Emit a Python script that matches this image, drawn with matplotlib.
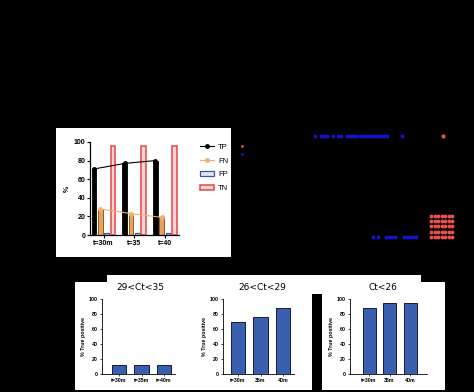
import matplotlib.pyplot as plt
from matplotlib.patches import Rectangle
from matplotlib.lines import Line2D
from matplotlib.patches import Patch
import numpy as np

W, H = 474, 392

# top chart data
groups = ['t=30m', 't=35', 't=40']
tp = [71, 77, 80]
fn = [28, 23, 19]
fp = [2, 2, 2]
tn = [96, 96, 96]

# bottom charts data
titles = ['29<Ct<35', '26<Ct<29', 'Ct<26']
time_labels = [['t=30m', 't=35m', 't=40m'],
               ['t=30m', '35m', '40m'],
               ['t=30m', '35m', '40m']]
true_pos = [[12, 12, 12],
            [69, 76, 88],
            [88, 95, 95]]

# dot panel data (arbitrary horizontal scale)
upper_blue = [83, 89, 92, 95, 101, 106, 109, 115, 118, 121, 124, 128, 131, 134,
              137, 140, 143, 146, 149, 152, 155, 170]
upper_red = [211]
lower_blue = [141, 146, 154, 157, 160, 163, 172, 175, 178, 181, 184]
grid_red_cols = [199, 202.5, 206, 209.5, 213, 216.5, 220]
grid_red_rows = [1, 2, 3, 4, 5]

plt.rcParams['font.family'] = ['Liberation Sans', 'DejaVu Sans']

fig = plt.figure(figsize=(W / 100, H / 100), dpi=100, facecolor='black')


def fr(x0, y0, x1, y1):
    # pixel box (top-left origin) -> figure fraction rect
    return [x0 / W, 1 - y1 / H, (x1 - x0) / W, (y1 - y0) / H]


def panel(x0, y0, x1, y1, color='white'):
    r = fr(x0, y0, x1, y1)
    fig.patches.append(Rectangle((r[0], r[1]), r[2], r[3], transform=fig.transFigure,
                                 facecolor=color, edgecolor='none', zorder=-10))


panel(56, 128, 231, 257)
panel(107, 275, 421, 290)
panel(75, 282, 445, 390)
panel(312, 294, 322, 392, color='black')

# ---- top grouped bar chart ----
ax = fig.add_axes(fr(90, 142, 179, 235))
ax.set_facecolor('none')
x = np.arange(len(groups))
step = 0.205
bw = 0.15
ax.bar(x - 1.5 * step, tp, bw, color='black', edgecolor='black', lw=0.6, zorder=2)
ax.bar(x - 0.5 * step, fn, bw, color='#e9a25a', edgecolor='#7a4a1a', lw=0.6, zorder=2)
ax.bar(x + 0.5 * step, fp, bw, color='#dfe6f2', edgecolor='#3a5a9a', lw=0.9, zorder=2)
ax.bar(x + 1.5 * step, tn, bw, color='#f4d4d4', edgecolor='#e04848', lw=1.1, zorder=2)
ax.plot(x - 1.5 * step, tp, color='black', lw=0.8, marker='o', ms=2.5, zorder=3)
ax.plot(x - 0.5 * step, fn, color='#f0b070', lw=0.8, marker='o', ms=2.5, zorder=3)
ax.set_xlim(-0.44, 2.46)
ax.set_ylim(0, 100)
ax.set_yticks(range(0, 101, 20))
ax.set_xticks(x)
ax.set_xticklabels(groups)
ax.set_ylabel('%', fontsize=5, fontweight='bold', labelpad=2)
ax.tick_params(labelsize=5, length=2, width=0.8, pad=1.5)
for t in ax.get_xticklabels() + ax.get_yticklabels():
    t.set_fontweight('bold')
for s in ['top', 'right']:
    ax.spines[s].set_visible(False)
for s in ['left', 'bottom']:
    ax.spines[s].set_linewidth(0.9)

handles = [Line2D([], [], color='black', marker='o', ms=2.5, lw=0.8),
           Line2D([], [], color='#f0b070', marker='o', ms=2.5, lw=0.8),
           Patch(facecolor='#dfe6f2', edgecolor='#3a5a9a', lw=0.9),
           Patch(facecolor='#f4d4d4', edgecolor='#e04848', lw=1.1)]
fig.legend(handles, ['TP', 'FN', 'FP', 'TN'], loc='upper left',
           bbox_to_anchor=(196 / W, 1 - 140 / H), frameon=False, fontsize=5.5,
           handlelength=1.8, handleheight=0.6, labelspacing=0.85, borderpad=0,
           handletextpad=0.6)

# ---- dot panel on black ----
axd = fig.add_axes(fr(232, 128, 474, 257))
axd.set_facecolor('none')
axd.axis('off')
axd.set_xlim(0, 242)
axd.set_ylim(0, 129)
axd.scatter([10], [111], s=4, color='#e05050', lw=0)
axd.scatter([10], [103], s=4, color='#1414c8', lw=0)
axd.scatter(upper_blue, [121] * len(upper_blue), s=8, color='#1414d0', lw=0)
axd.scatter(upper_red, [121] * len(upper_red), s=9, color='#e85050', lw=0)
axd.scatter(lower_blue, [20] * len(lower_blue), s=8, color='#1414d0', lw=0)
gx, gy = np.meshgrid(grid_red_cols, grid_red_rows)
axd.scatter(gx.ravel(), 15 + gy.ravel() * 5.2, s=8, color='#e85050', lw=0)

# ---- bottom bar charts ----
boxes = [(102, 175, -0.76, 2.49, 140),
         (223, 294, -0.68, 2.5, 262),
         (350, 427, -0.93, 2.82, 383)]
for i, (xa, xb, lo, hi, tcx) in enumerate(boxes):
    a = fig.add_axes(fr(xa, 299, xb, 374))
    a.set_facecolor('none')
    a.bar(np.arange(3), true_pos[i], 0.63, color='#3a5fae', edgecolor='#141a40', lw=0.7)
    a.set_xlim(lo, hi)
    a.set_ylim(0, 100)
    a.set_yticks(range(0, 101, 20))
    a.set_xticks(np.arange(3))
    a.set_xticklabels(time_labels[i])
    a.tick_params(labelsize=3.8, length=1.5, width=0.5, pad=1.5)
    for t in a.get_xticklabels() + a.get_yticklabels():
        t.set_fontweight('bold')
    a.set_ylabel('% True positive', fontsize=3.8, fontweight='bold', labelpad=2)
    for s in ['top', 'right']:
        a.spines[s].set_visible(False)
    for s in ['left', 'bottom']:
        a.spines[s].set_linewidth(0.6)
    fig.text(tcx / W, 1 - 288 / H, titles[i], ha='center', va='center',
             fontsize=6.5, family=['DejaVu Sans'])

fig.savefig('out.png', dpi=100, facecolor='black')
